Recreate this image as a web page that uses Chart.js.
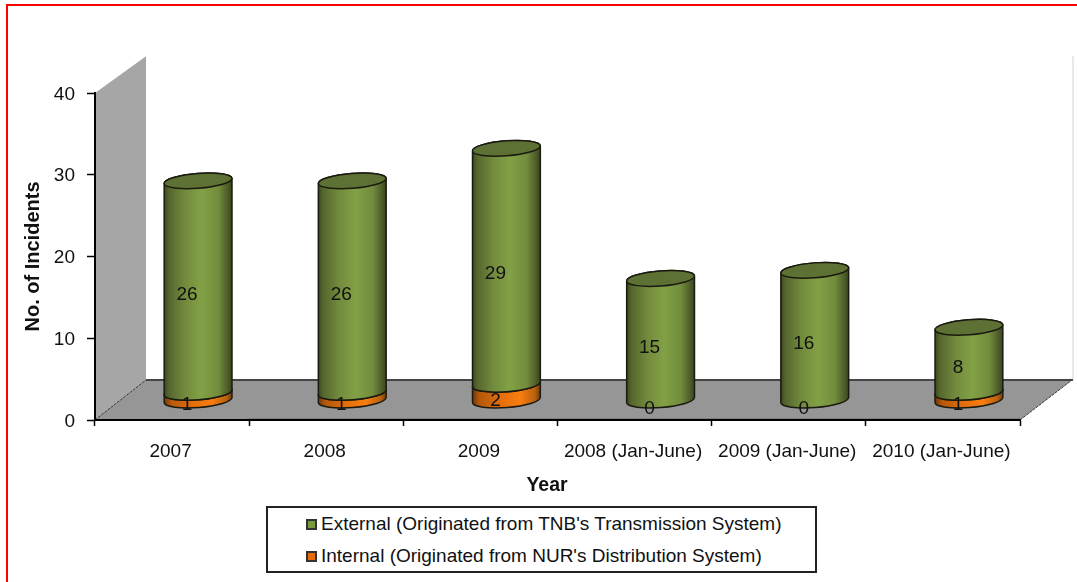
<!DOCTYPE html>
<html>
<head>
<meta charset="utf-8">
<title>No. of Incidents by Year</title>
<script src="https://cdn.jsdelivr.net/npm/chart.js@4"></script>
<style>
  html, body { margin: 0; padding: 0; background: #fff; overflow: hidden; }
  #wrap { position: relative; width: 1077px; height: 582px; font-family: "Liberation Sans", Arial, sans-serif; color: #111; }
  #frame { position: absolute; left: 6px; top: 4px; right: 0; bottom: 0; border-left: 2px solid #f00; border-top: 2px solid #f00; }
  canvas { position: absolute; left: 0; top: 0; }
  #legend { position: absolute; left: 266px; top: 506px; width: 547px; height: 63px; border: 2px solid #222; background: #fff; }
  #legend div { position: absolute; left: 38px; font-size: 19px; line-height: 22px; white-space: nowrap; }
  #legend i { display: inline-block; width: 7px; height: 7px; border: 2px solid #333; margin-right: 4px; vertical-align: 0; }
</style>
</head>
<body>
<div id="wrap">
  <div id="frame"></div>
  <canvas id="c" width="1077" height="582"></canvas>
  <div id="legend"></div>
</div>
<script>
// ---------- data ----------
const YEARS = ["2007", "2008", "2009", "2008 (Jan-June)", "2009 (Jan-June)", "2010 (Jan-June)"];
const EXTERNAL = [26, 26, 29, 15, 16, 8];
const INTERNAL = [1, 1, 2, 0, 0, 1];
const EXT_LABEL = "External (Originated from TNB's Transmission System)";
const INT_LABEL = "Internal (Originated from NUR's Distribution System)";
const Y_TITLE = "No. of Incidents", X_TITLE = "Year";

const FONT = '"Liberation Sans", Arial, sans-serif';
const FS = 19;
const DEPTH_X = 51, DEPTH_Y = 40;   // how far the 3d floor runs back
const RX = 34, RY = 7.5, TILT = -4.4 * Math.PI / 180;

const GREEN = [[0, "#3c4720"], [0.07, "#55662d"], [0.3, "#728a3d"], [0.55, "#82a145"], [0.8, "#728c3c"], [0.94, "#4c5b29"], [1, "#39441e"]];
const ORANGE = [[0, "#6e3606"], [0.1, "#b3580b"], [0.45, "#e8700c"], [0.7, "#f87e10"], [0.92, "#b8600f"], [1, "#703806"]];

// bars sit half way back on the floor, back plane is very slightly shorter
const toCylX = (x) => x + 26;
const toCylY = (y, bottom) => bottom - (bottom - y) * 0.995 - DEPTH_Y / 2 + 0.5;

function grad(ctx, cx, stops) {
  const g = ctx.createLinearGradient(cx - RX, 0, cx + RX, 0);
  stops.forEach((s) => g.addColorStop(s[0], s[1]));
  return g;
}

function drawCylinder(ctx, cx, yTop, yBot, stops, capColor) {
  ctx.beginPath();
  ctx.ellipse(cx, yBot, RX, RY, TILT, 0, Math.PI);
  ctx.ellipse(cx, yTop, RX, RY, TILT, Math.PI, Math.PI * 2);
  ctx.closePath();
  ctx.fillStyle = grad(ctx, cx, stops);
  ctx.fill();
  ctx.lineWidth = 1.5;
  ctx.strokeStyle = "#1a1a10";
  ctx.stroke();
  ctx.beginPath();
  ctx.ellipse(cx, yTop, RX, RY, TILT, 0, Math.PI * 2);
  ctx.fillStyle = capColor;
  ctx.fill();
  ctx.stroke();
}

// ---------- 3d walls and floor, under the axes ----------
const roomPlugin = {
  id: "room",
  beforeDraw(chart) {
    const { ctx, chartArea: a } = chart;
    const h = a.bottom - a.top;
    const backTop = a.bottom - h * 0.99 - DEPTH_Y, backBot = a.bottom - DEPTH_Y;
    ctx.save();
    ctx.fillStyle = "#a6a6a6";
    ctx.beginPath();
    ctx.moveTo(a.left, a.top); ctx.lineTo(a.left + DEPTH_X, backTop);
    ctx.lineTo(a.left + DEPTH_X, backBot); ctx.lineTo(a.left, a.bottom);
    ctx.closePath(); ctx.fill();
    ctx.fillStyle = "#e9e9e9";
    ctx.fillRect(a.right + DEPTH_X + 1, backTop, 2, h * 0.99);
    ctx.fillStyle = "#969696";
    ctx.beginPath();
    ctx.moveTo(a.left, a.bottom); ctx.lineTo(a.left + DEPTH_X, backBot);
    ctx.lineTo(a.right + DEPTH_X + 1, backBot); ctx.lineTo(a.right, a.bottom);
    ctx.closePath(); ctx.fill();
    ctx.fillStyle = "#454545";
    ctx.fillRect(a.left + DEPTH_X, backBot - 1, a.right - a.left + 2, 2);
    ctx.fillStyle = "#808080";
    ctx.fillRect(a.left + 152, a.bottom - 2, a.right - a.left - 152, 2);
    ctx.strokeStyle = "#333";
    ctx.lineWidth = 1;
    ctx.setLineDash([3, 1]);
    ctx.beginPath();
    ctx.moveTo(a.left, a.bottom); ctx.lineTo(a.left + DEPTH_X, backBot);
    ctx.moveTo(a.right, a.bottom); ctx.lineTo(a.right + DEPTH_X + 1, backBot);
    ctx.stroke();
    ctx.restore();
  },
  afterDatasetsDraw(chart) {
    const { ctx, chartArea: a } = chart;
    const inner = chart.getDatasetMeta(0).data, ext = chart.getDatasetMeta(1).data;
    ctx.save();
    inner.forEach((b, i) => {
      const cx = toCylX(b.x);
      if (INTERNAL[i] > 0) drawCylinder(ctx, cx, toCylY(b.y, a.bottom), toCylY(b.base, a.bottom), ORANGE, "#d9680c");
      const e = ext[i];
      drawCylinder(ctx, cx, toCylY(e.y, a.bottom), toCylY(e.base, a.bottom), GREEN, "#5e7134");
    });
    // value labels
    ctx.fillStyle = "#111";
    ctx.font = FS + "px " + FONT;
    ctx.textAlign = "center";
    ctx.textBaseline = "middle";
    [[inner, INTERNAL], [ext, EXTERNAL]].forEach(([bars, vals]) => {
      bars.forEach((b, i) => ctx.fillText(String(vals[i]), b.x + 15, (b.y + b.base) / 2 - 11));
    });
    // category axis title sits left of the axis middle in the original
    ctx.font = "bold 19.5px " + FONT;
    ctx.fillText(X_TITLE, 547, 486);
    ctx.restore();
  },
};

new Chart(document.getElementById("c"), {
  type: "bar",
  data: {
    labels: YEARS,
    datasets: [
      { label: INT_LABEL, data: INTERNAL, backgroundColor: "rgba(0,0,0,0)", stack: "s" },
      { label: EXT_LABEL, data: EXTERNAL, backgroundColor: "rgba(0,0,0,0)", stack: "s" },
    ],
  },
  options: {
    responsive: false,
    animation: false,
    events: [],
    layout: { padding: { left: 0, top: 93, right: 57, bottom: 0 } },
    barPercentage: 68 / 154,
    categoryPercentage: 1,
    plugins: { legend: { display: false }, tooltip: { enabled: false } },
    scales: {
      x: {
        stacked: true,
        afterFit: (s) => { s.height = 162; },
        border: { color: "#000", width: 2 },
        grid: { drawOnChartArea: false, tickLength: 6, tickColor: "#000", tickWidth: 1.5 },
        ticks: { color: "#111", autoSkip: false, maxRotation: 0, padding: 14, labelOffset: -1.5, font: { family: FONT, size: FS } },
      },
      y: {
        stacked: true,
        min: 0,
        max: 40,
        afterFit: (s) => { s.width = 95; },
        border: { color: "#000", width: 2 },
        grid: { drawOnChartArea: false, tickLength: 8, tickColor: "#000", tickWidth: 1.5 },
        ticks: { stepSize: 10, color: "#111", padding: 12, labelOffset: 1.5, font: { family: FONT, size: FS } },
        title: { display: true, text: Y_TITLE, color: "#111", padding: { top: 21, bottom: 0 }, font: { family: FONT, size: 20, weight: "bold" } },
      },
    },
  },
  plugins: [roomPlugin],
});

// ---------- legend, a framed box below the chart ----------
const legend = document.getElementById("legend");
[[EXT_LABEL, "#7a9a3c", 5], [INT_LABEL, "#e46c0a", 37]].forEach(([text, color, top]) => {
  const row = document.createElement("div");
  row.style.top = top + "px";
  const sw = document.createElement("i");
  sw.style.background = color;
  row.appendChild(sw);
  row.appendChild(document.createTextNode(text));
  legend.appendChild(row);
});
</script>
</body>
</html>
